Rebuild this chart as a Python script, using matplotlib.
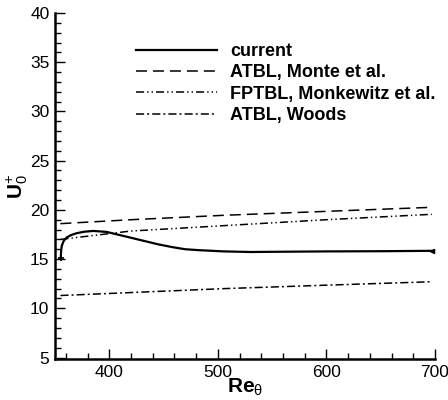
import matplotlib
matplotlib.use("Agg")
import matplotlib.pyplot as plt
from matplotlib.ticker import MultipleLocator

plt.rcParams["font.family"] = ["Liberation Sans", "DejaVu Sans"]
plt.rcParams["mathtext.fontset"] = "custom"
plt.rcParams["mathtext.rm"] = "Liberation Sans"
plt.rcParams["mathtext.it"] = "Liberation Sans"
plt.rcParams["mathtext.bf"] = "Liberation Sans:bold"

# Present simulation
re_current = [355.3, 355.6, 356.2, 358.0, 360.8, 365.0, 370.0, 377.0, 385.3, 397.6,
              412.7, 430.0, 445.0, 458.8, 470.0, 483.6, 505.8, 530.0, 551.8, 600.0,
              650.0, 697.0]
u_current = [15.1, 15.8, 16.33, 16.85, 17.2, 17.45, 17.63, 17.78, 17.86, 17.76,
             17.36, 16.9, 16.5, 16.2, 16.0, 15.9, 15.78, 15.72, 15.74, 15.78,
             15.8, 15.84]

# Reference data sets
re_monte = [355.0, 420.0, 505.8, 600.0, 697.0]
u_monte = [18.6, 19.0, 19.45, 19.85, 20.26]

re_monkewitz = [355.0, 420.0, 505.8, 600.0, 697.0]
u_monkewitz = [17.0, 17.85, 18.4, 19.0, 19.55]

re_woods = [355.0, 420.0, 505.8, 600.0, 697.0]
u_woods = [11.3, 11.6, 12.0, 12.35, 12.7]

fig = plt.figure(figsize=(4.48, 4.0), dpi=100)
ax = fig.add_axes([55 / 448, 1 - 359 / 400, 380 / 448, 346 / 400])

ax.plot(re_current, u_current, color="black", lw=1.6, label="current")
ax.plot(re_monte, u_monte, color="black", lw=1.1, dashes=(7.2, 3.9),
        label="ATBL, Monte et al.")
ax.plot(re_monkewitz, u_monkewitz, color="black", lw=1.1,
        dashes=(5.3, 2.0, 0.9, 2.0, 0.9, 2.0), label="FPTBL, Monkewitz et al.")
ax.plot(re_woods, u_woods, color="black", lw=1.1, dashes=(5.3, 2.0, 1.3, 2.0),
        label="ATBL, Woods")
ax.plot(re_current[0], u_current[0], marker="+", color="black", ms=5, mew=1.2)
ax.plot(re_current[-1], u_current[-1], marker="<", color="black", ms=3)

ax.set_xlim(350, 700)
ax.set_ylim(4.85, 40)
ax.xaxis.set_major_locator(MultipleLocator(100))
ax.xaxis.set_minor_locator(MultipleLocator(20))
ax.yaxis.set_major_locator(MultipleLocator(5))
ax.yaxis.set_minor_locator(MultipleLocator(1))
ax.tick_params(which="both", direction="in", top=False, right=False,
               labelsize=12.5, width=1.0)
ax.tick_params(which="major", length=7, pad=4)
ax.tick_params(which="minor", length=4)

for side in ["top", "right"]:
    ax.spines[side].set_visible(False)
for side in ["left", "bottom"]:
    ax.spines[side].set_linewidth(1.8)

ax.set_xlabel(r"$\mathbf{Re}_{\theta}$", fontsize=15, labelpad=-2)
ax.set_ylabel(r"$\mathbf{U}_{0}^{+}$", fontsize=15, labelpad=0)

leg = ax.legend(loc="upper left", bbox_to_anchor=(0.213, 0.913), frameon=False,
                handlelength=4.5, handletextpad=0.72, labelspacing=0.24,
                borderpad=0, borderaxespad=0, prop={"weight": "bold", "size": 13})

fig.savefig("out.png", dpi=100)
